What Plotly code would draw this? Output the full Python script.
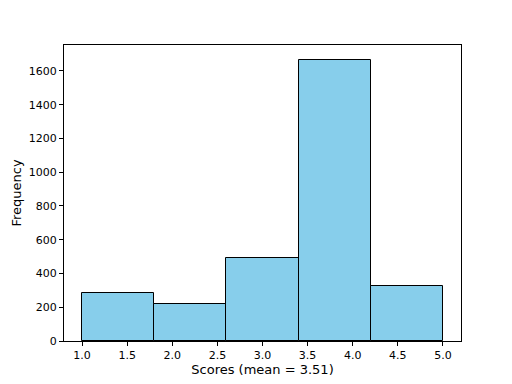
import plotly.graph_objects as go

# histogram bins (edges) and counts
bin_left = [1.0, 1.8, 2.6, 3.4, 4.2]
bin_width = [0.8, 0.8, 0.8, 0.8, 0.8]
counts = [283, 221, 492, 1665, 326]
x_ticks = [1.0, 1.5, 2.0, 2.5, 3.0, 3.5, 4.0, 4.5, 5.0]
y_ticks = [0, 200, 400, 600, 800, 1000, 1200, 1400, 1600]

fig = go.Figure()
fig.add_trace(go.Bar(
    x=bin_left, y=counts, width=bin_width, offset=0,
    marker_color='#87CEEB',
    marker_line=dict(color='black', width=1),
    hoverinfo='y'
))

axis_style = dict(
    showline=True, linecolor='black', linewidth=1, mirror=True,
    ticks='outside', ticklen=4, tickcolor='black', tickwidth=1,
    showgrid=False, zeroline=False, automargin=False,
    tickfont=dict(family='DejaVu Sans', size=11, color='black'),
)

fig.update_layout(
    width=512, height=384,
    margin=dict(l=64, r=51, t=45, b=43),
    plot_bgcolor='white', paper_bgcolor='white',
    showlegend=False,
    bargap=0,
    font=dict(family='DejaVu Sans', size=11, color='black'),
)
fig.update_xaxes(axis_style, range=[0.8, 5.2], tickvals=x_ticks,
                 ticktext=[f'{v:.1f}' for v in x_ticks],
                 title=dict(text='Scores (mean = 3.51)', standoff=2))
fig.update_yaxes(axis_style, range=[0, 1754], tickvals=y_ticks,
                 title=dict(text='Frequency', standoff=4))

# drop the page's default body margin so the figure sits at the window corner
fig.write_html("out.html", config={'displayModeBar': False},
               post_script="document.body.style.margin='0';")
